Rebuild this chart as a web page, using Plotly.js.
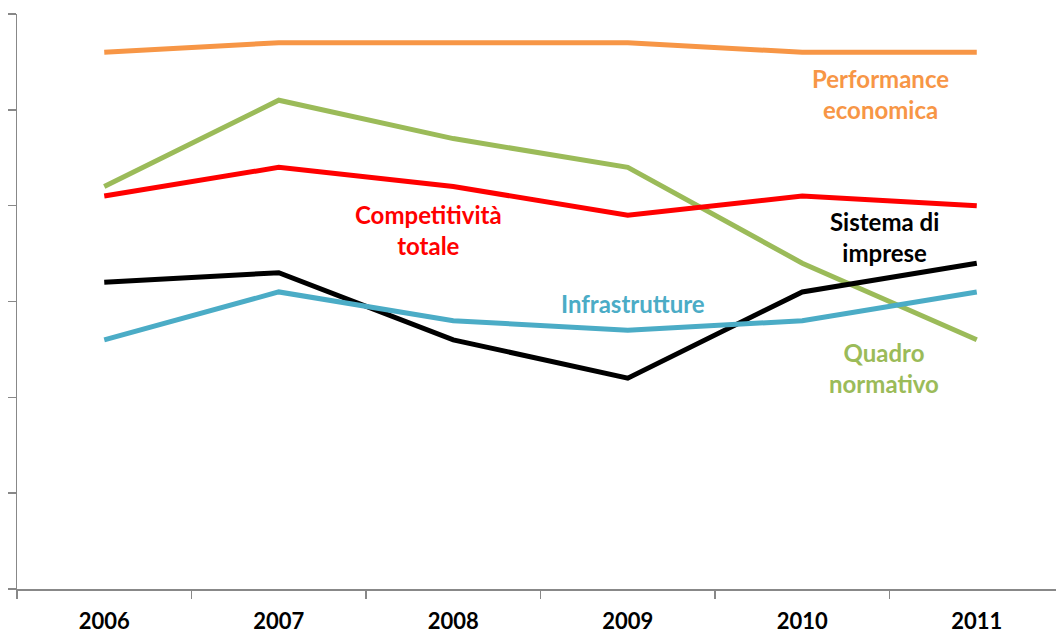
<!DOCTYPE html>
<html>
<head>
<meta charset="utf-8">
<script src="https://cdn.plot.ly/plotly-3.0.1.min.js"></script>
<style>
html,body{margin:0;padding:0;background:#fff;}
#chart{width:1056px;height:635px;}
</style>
</head>
<body>
<div id="chart"></div>
<script>
const years = ["2006","2007","2008","2009","2010","2011"];
const performanceEconomica = [5.6, 5.7, 5.7, 5.7, 5.6, 5.6];
const quadroNormativo = [4.2, 5.1, 4.7, 4.4, 3.4, 2.6];
const competitivitaTotale = [4.1, 4.4, 4.2, 3.9, 4.1, 4.0];
const sistemaImprese = [3.2, 3.3, 2.6, 2.2, 3.1, 3.4];
const infrastrutture = [2.6, 3.1, 2.8, 2.7, 2.8, 3.1];

const seriesNames = ["Performance economica","Quadro normativo","Competitività totale","Sistema di imprese","Infrastrutture"];
const seriesColors = ["#F79646","#9BBB59","#FF0000","#000000","#4BACC6"];
const seriesValues = [performanceEconomica, quadroNormativo, competitivitaTotale, sistemaImprese, infrastrutture];

const traces = seriesValues.map((vals, i) => ({
  x: years, y: vals, type: "scatter", mode: "lines", name: seriesNames[i],
  line: {color: seriesColors[i], width: 5}, hoverinfo: "skip"
}));

const font = "Lato, 'Open Sans', sans-serif";
function ann(text, x, y, color) {
  return {text: text, x: x, y: y, xref: "x", yref: "y", showarrow: false,
    font: {family: font, size: 24, color: color, weight: 700}, align: "center",
    xanchor: "center", yanchor: "middle"};
}

const layout = {
  width: 1056, height: 635,
  margin: {l: 17, r: 0, t: 13.5, b: 46},
  paper_bgcolor: "#ffffff", plot_bgcolor: "#ffffff",
  showlegend: false,
  font: {family: font},
  xaxis: {
    type: "category", range: [-0.5, 5.454],
    tickson: "boundaries", ticks: "outside", ticklen: 8, tickwidth: 1.5, tickcolor: "#888888",
    showline: true, linecolor: "#888888", linewidth: 1.5, showgrid: false, zeroline: false,
    ticklabelstandoff: 12,
    tickfont: {family: font, size: 22, color: "#000000", weight: 700}, fixedrange: true
  },
  yaxis: {
    range: [0, 6], dtick: 1, tick0: 0, ticks: "outside", ticklen: 8, tickwidth: 1.5, tickcolor: "#888888",
    showline: true, linecolor: "#888888", linewidth: 1.5, showgrid: false, zeroline: false,
    showticklabels: false, fixedrange: true
  },
  annotations: [
    ann("Performance<br>economica", 4.45, 5.17, "#F79646"),
    ann("Competitività<br>totale", 1.86, 3.75, "#FF0000"),
    ann("Sistema di<br>imprese", 4.47, 3.67, "#000000"),
    ann("Infrastrutture", 3.03, 2.98, "#4BACC6"),
    ann("Quadro<br>normativo", 4.47, 2.31, "#9BBB59")
  ]
};

Plotly.newPlot("chart", traces, layout, {displayModeBar: false, staticPlot: true});
</script>
</body>
</html>
